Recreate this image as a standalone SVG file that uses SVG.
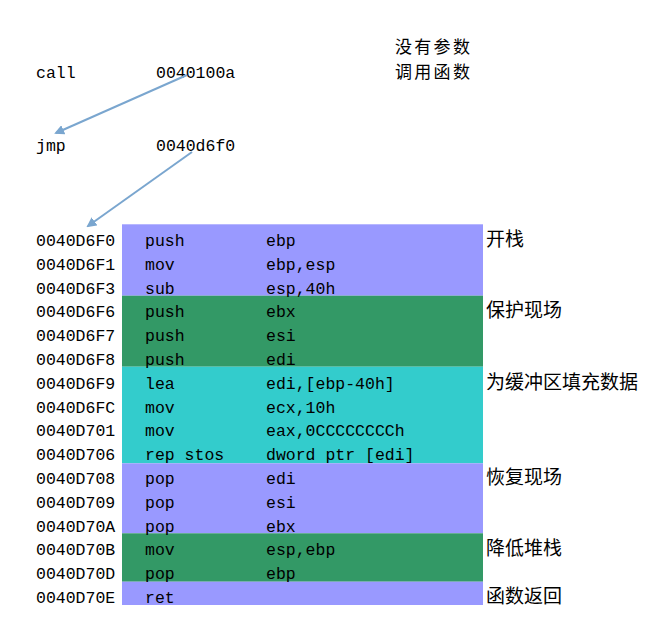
<svg xmlns="http://www.w3.org/2000/svg" width="657" height="621" viewBox="0 0 657 621">
<style>
.m{font-family:"Liberation Mono","DejaVu Sans Mono",monospace;font-size:16.5px;fill:#000}
.c{font-family:"Noto Sans CJK SC","Noto Sans CJK JP",sans-serif;font-size:19px;fill:#000}
.n{font-family:"Noto Sans CJK SC","Noto Sans CJK JP",sans-serif;font-size:17px;letter-spacing:2.3px;fill:#000}
.pu{fill:#9999ff}.gr{fill:#339966}.cy{fill:#33cccc}
.arr{stroke:#7aa6cf;stroke-width:2;fill:none;marker-end:url(#ah)}
</style>
<defs>
<marker id="ah" markerWidth="10" markerHeight="10" refX="8" refY="5" orient="auto" markerUnits="userSpaceOnUse">
<path d="M0,0 L10,5 L0,10 Z" fill="#7aa6cf"/>
</marker>
</defs>
<rect width="657" height="621" fill="#fff"/>
<g id="note"><text class="n" x="395" y="53">没有参数</text><text class="n" x="395" y="78">调用函数</text></g>
<g id="call"><text class="m" x="36" y="78">call</text><text class="m" x="156" y="78">0040100a</text></g>
<g id="jmp"><text class="m" x="36" y="151">jmp</text><text class="m" x="156" y="151">0040d6f0</text></g>
<g id="blocks">
<rect class="pu" x="122" y="224.3" width="361" height="71.4"/>
<rect class="gr" x="122" y="295.7" width="361" height="71"/>
<rect class="cy" x="122" y="366.7" width="361" height="96.6"/>
<rect class="pu" x="122" y="463.3" width="361" height="70"/>
<rect class="gr" x="122" y="533.3" width="361" height="48.4"/>
<rect class="pu" x="122" y="581.7" width="361" height="23.3"/>
</g>
<g id="code">
<g id="r1"><text class="m" x="36" y="246">0040D6F0</text><text class="m" x="145" y="246">push</text><text class="m" x="266" y="246">ebp</text></g>
<g id="r2"><text class="m" x="36" y="269.8">0040D6F1</text><text class="m" x="145" y="269.8">mov</text><text class="m" x="266" y="269.8">ebp,esp</text></g>
<g id="r3"><text class="m" x="36" y="293.6">0040D6F3</text><text class="m" x="145" y="293.6">sub</text><text class="m" x="266" y="293.6">esp,40h</text></g>
<g id="r4"><text class="m" x="36" y="317.4">0040D6F6</text><text class="m" x="145" y="317.4">push</text><text class="m" x="266" y="317.4">ebx</text></g>
<g id="r5"><text class="m" x="36" y="341.2">0040D6F7</text><text class="m" x="145" y="341.2">push</text><text class="m" x="266" y="341.2">esi</text></g>
<g id="r6"><text class="m" x="36" y="365">0040D6F8</text><text class="m" x="145" y="365">push</text><text class="m" x="266" y="365">edi</text></g>
<g id="r7"><text class="m" x="36" y="388.8">0040D6F9</text><text class="m" x="145" y="388.8">lea</text><text class="m" x="266" y="388.8">edi,[ebp-40h]</text></g>
<g id="r8"><text class="m" x="36" y="412.6">0040D6FC</text><text class="m" x="145" y="412.6">mov</text><text class="m" x="266" y="412.6">ecx,10h</text></g>
<g id="r9"><text class="m" x="36" y="436.4">0040D701</text><text class="m" x="145" y="436.4">mov</text><text class="m" x="266" y="436.4">eax,0CCCCCCCCh</text></g>
<g id="r10"><text class="m" x="36" y="460.2">0040D706</text><text class="m" x="145" y="460.2">rep stos</text><text class="m" x="266" y="460.2">dword ptr [edi]</text></g>
<g id="r11"><text class="m" x="36" y="484">0040D708</text><text class="m" x="145" y="484">pop</text><text class="m" x="266" y="484">edi</text></g>
<g id="r12"><text class="m" x="36" y="507.8">0040D709</text><text class="m" x="145" y="507.8">pop</text><text class="m" x="266" y="507.8">esi</text></g>
<g id="r13"><text class="m" x="36" y="531.6">0040D70A</text><text class="m" x="145" y="531.6">pop</text><text class="m" x="266" y="531.6">ebx</text></g>
<g id="r14"><text class="m" x="36" y="555.4">0040D70B</text><text class="m" x="145" y="555.4">mov</text><text class="m" x="266" y="555.4">esp,ebp</text></g>
<g id="r15"><text class="m" x="36" y="579.2">0040D70D</text><text class="m" x="145" y="579.2">pop</text><text class="m" x="266" y="579.2">ebp</text></g>
<g id="r16"><text class="m" x="36" y="603">0040D70E</text><text class="m" x="145" y="603">ret</text></g>
</g>
<g id="labels">
<text class="c" x="486" y="246">开栈</text>
<text class="c" x="486" y="317.4">保护现场</text>
<text class="c" x="486" y="388.8">为缓冲区填充数据</text>
<text class="c" x="486" y="484">恢复现场</text>
<text class="c" x="486" y="555.4">降低堆栈</text>
<text class="c" x="486" y="603">函数返回</text>
</g>
<g id="connectors">
<line class="arr" x1="187" y1="75" x2="56" y2="133"/>
<line class="arr" x1="192" y1="152" x2="88" y2="226"/>
</g>
</svg>
